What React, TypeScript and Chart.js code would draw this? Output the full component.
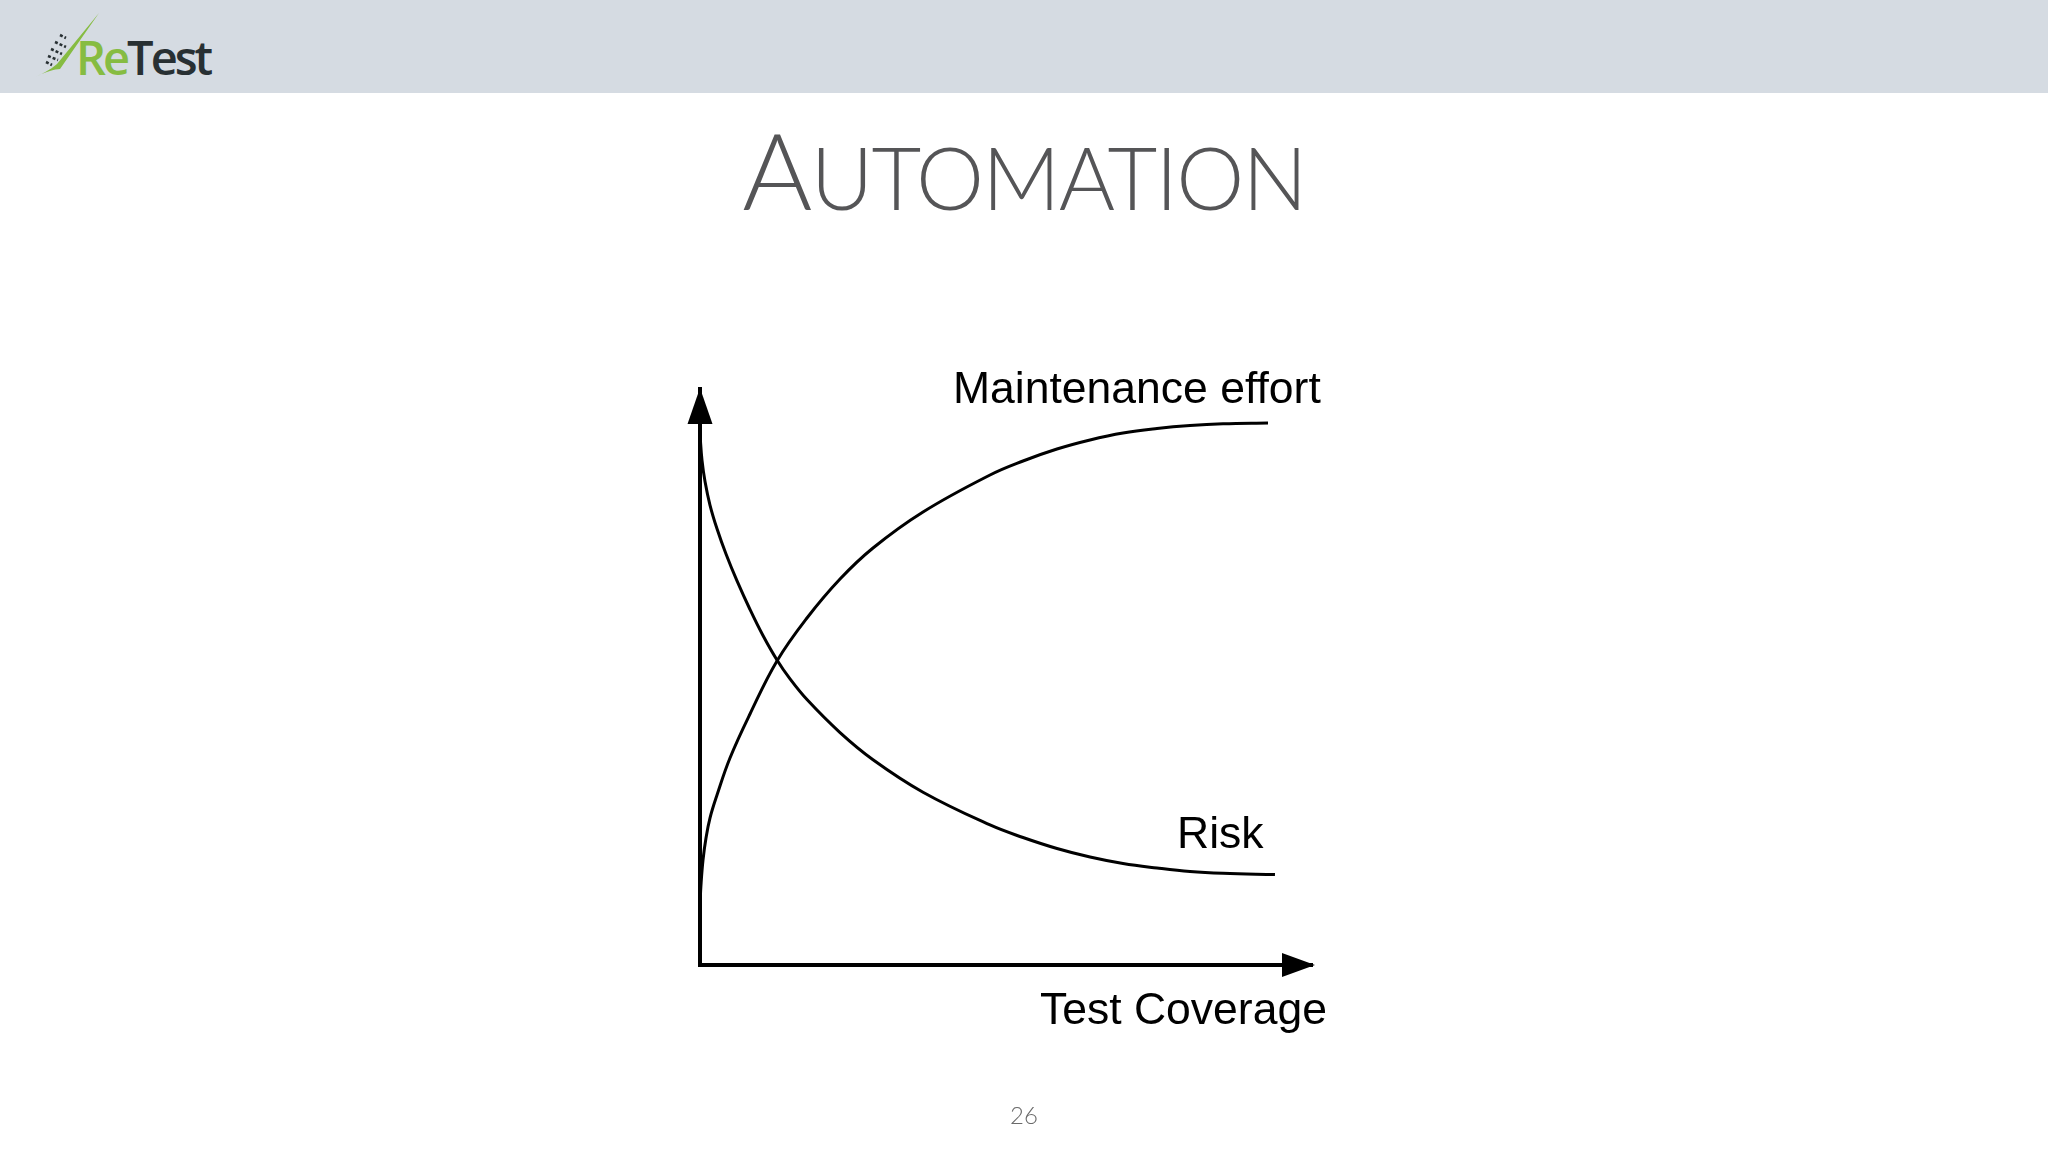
import React, { useEffect, useRef } from "react";
import { Chart, registerables } from "chart.js";

Chart.register(...registerables);

// Curve data (x = test coverage, y = level)
const maintenanceX = [0, 0.16, 0.49, 0.98, 1.63, 2.78, 4.9, 8.17, 12.58, 17.48, 22.88, 28.27, 36.44, 47.39, 52.78, 58.33, 63.73, 69.12, 74.67, 80.07, 85.46, 92.81];
const maintenanceY = [10.42, 13.89, 18.23, 22.05, 25.52, 29.51, 35.94, 43.58, 52.78, 60.24, 67.01, 72.4, 78.65, 85.07, 87.5, 89.58, 91.15, 92.36, 93.14, 93.66, 93.96, 94.1];
const riskX = [0, 0.33, 0.82, 1.63, 2.78, 4.25, 6.05, 8.17, 10.29, 12.58, 14.71, 17.48, 22.88, 28.27, 36.44, 47.39, 52.78, 58.33, 63.73, 69.12, 74.67, 80.07, 85.46, 93.95];
const riskY = [92.1, 87.59, 83.94, 79.86, 75.73, 71.35, 66.68, 61.72, 57.2, 52.95, 49.67, 46.08, 40.35, 35.64, 30.0, 24.31, 22.14, 20.23, 18.75, 17.62, 16.84, 16.23, 15.92, 15.71];

const seriesNames = ["Maintenance effort", "Risk"];
const xAxisTitle = "Test Coverage";
const slideTitleFirst = "A";
const slideTitleRest = "UTOMATION";
const pageNumber = "26";

const toPoints = (xs: number[], ys: number[]) => xs.map((x, i) => ({ x, y: ys[i] }));

const annotationPlugin = {
  id: "slideAnnotations",
  afterDraw(chart: any) {
    const ctx = chart.ctx as CanvasRenderingContext2D;
    const { left, right, top, bottom } = chart.chartArea;
    ctx.save();
    ctx.fillStyle = "#000";
    // y arrow head
    ctx.beginPath();
    ctx.moveTo(left, top - 1);
    ctx.lineTo(left + 12.5, top + 35);
    ctx.lineTo(left - 12.5, top + 35);
    ctx.closePath();
    ctx.fill();
    // x arrow head
    ctx.beginPath();
    ctx.moveTo(right + 3, bottom);
    ctx.lineTo(right - 30, bottom + 12);
    ctx.lineTo(right - 30, bottom - 12);
    ctx.closePath();
    ctx.fill();
    // labels
    ctx.font = '44.5px "Liberation Sans", Arial, sans-serif';
    ctx.textBaseline = "alphabetic";
    ctx.textAlign = "left";
    ctx.fillText(seriesNames[0], left + 253, top + 14);
    ctx.fillText(seriesNames[1], left + 477, top + 459);
    ctx.fillText(xAxisTitle, left + 340, bottom + 59);
    ctx.restore();
  },
};

function ChartCanvas() {
  const ref = useRef<HTMLCanvasElement | null>(null);
  useEffect(() => {
    if (!ref.current) return;
    const chart = new Chart(ref.current, {
      type: "scatter",
      data: {
        datasets: [
          {
            label: seriesNames[0],
            data: toPoints(maintenanceX, maintenanceY),
            showLine: true,
            borderColor: "#000",
            borderWidth: 3,
            pointRadius: 0,
            tension: 0.4,
            clip: false,
          } as any,
          {
            label: seriesNames[1],
            data: toPoints(riskX, riskY),
            showLine: true,
            borderColor: "#000",
            borderWidth: 3,
            pointRadius: 0,
            tension: 0.4,
            clip: false,
          } as any,
        ],
      },
      options: {
        animation: false,
        responsive: false,
        devicePixelRatio: 1,
        layout: { padding: { left: 700, right: 2048 - 1312, top: 389, bottom: 1152 - 965 } },
        plugins: { legend: { display: false }, tooltip: { enabled: false } },
        scales: {
          x: {
            type: "linear",
            min: 0,
            max: 100,
            ticks: { display: false },
            grid: { display: false, drawTicks: false },
            border: { display: true, color: "#000", width: 4 },
            afterFit: (s: any) => {
              s.height = 0;
            },
          },
          y: {
            type: "linear",
            min: 0,
            max: 100,
            ticks: { display: false },
            grid: { display: false, drawTicks: false },
            border: { display: true, color: "#000", width: 4 },
            afterFit: (s: any) => {
              s.width = 0;
            },
          },
        },
      },
      plugins: [annotationPlugin],
    });
    return () => chart.destroy();
  }, []);
  return <canvas ref={ref} width={2048} height={1152} style={{ position: "absolute", left: 0, top: 0, width: 2048, height: 1152 }} />;
}

export default function App() {
  useEffect(() => {
    document.body.style.margin = "0";
  }, []);
  return (
    <div style={{ position: "absolute", left: 0, top: 0, width: 2048, height: 1152, background: "#fff", overflow: "hidden" }}>
      <div style={{ position: "absolute", left: 0, top: 0, width: 2048, height: 93, background: "#d5dbe2" }} />
      <svg style={{ position: "absolute", left: 0, top: 0 }} width={110} height={93}>
        <path d="M33,78 C45,72 55,69 60,69 L99,13 L57,64 C50,70 42,74 33,78 Z" fill="#86bc42" />
        <g stroke="#283033" strokeWidth={2.6} strokeDasharray="3 2">
          <line x1={60} y1={35} x2={66} y2={38} />
          <line x1={55} y1={42} x2={66} y2={47} />
          <line x1={51} y1={49} x2={62} y2={54} />
          <line x1={48} y1={56} x2={58} y2={60} />
          <line x1={46} y1={62} x2={52} y2={65} />
        </g>
      </svg>
      <div
        style={{
          position: "absolute",
          left: 76,
          top: 34,
          fontFamily: '"Open Sans", sans-serif',
          fontWeight: 600,
          fontSize: 47,
          lineHeight: "47px",
          letterSpacing: -3,
          whiteSpace: "nowrap",
        }}
      >
        <span style={{ color: "#86bc42" }}>Re</span>
        <span style={{ color: "#283033" }}>Test</span>
      </div>
      <div
        style={{
          position: "absolute",
          left: 0,
          width: 2048,
          top: 115,
          textAlign: "center",
          fontFamily: "Lato, sans-serif",
          fontWeight: 300,
          fontSize: 107,
          lineHeight: "107px",
          letterSpacing: -1.7,
          color: "#555557",
          whiteSpace: "nowrap",
        }}
      >
        <span style={{ fontSize: 107, lineHeight: 1 }}>{slideTitleFirst}</span>
        <span style={{ fontSize: 86, lineHeight: 1 }}>{slideTitleRest}</span>
      </div>
      <ChartCanvas />
      <div
        style={{
          position: "absolute",
          left: 0,
          width: 2048,
          top: 1103,
          textAlign: "center",
          fontFamily: "Lato, sans-serif",
          fontWeight: 300,
          fontSize: 24,
          lineHeight: "24px",
          color: "#6a6a6a",
        }}
      >
        {pageNumber}
      </div>
    </div>
  );
}
